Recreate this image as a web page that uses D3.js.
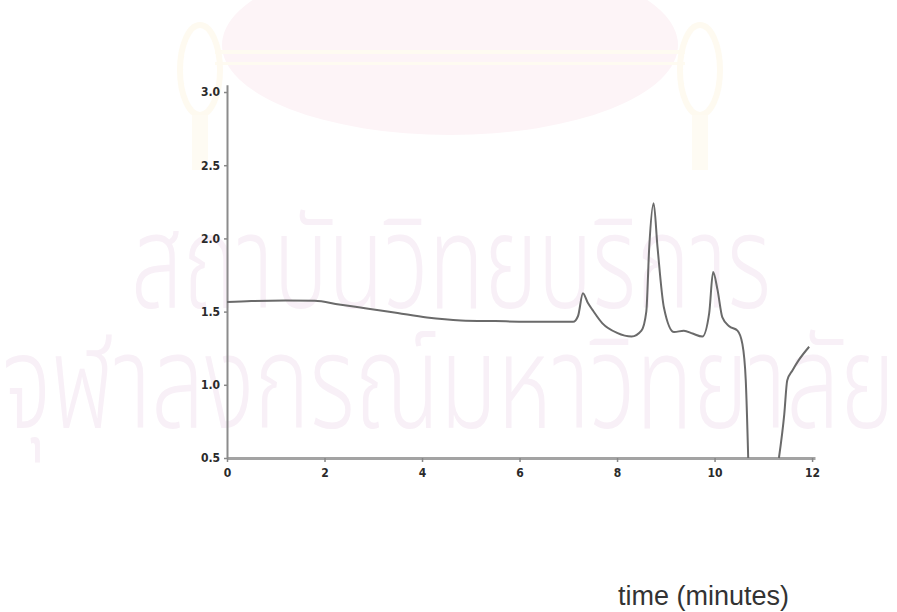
<!DOCTYPE html>
<html>
<head>
<meta charset="utf-8">
<script src="https://cdn.jsdelivr.net/npm/d3@7"></script>
<style>
body { margin: 0; background: #fff; }
</style>
</head>
<body>
<svg id="chart"></svg>
<script>
// absorbance trace, first part (time in minutes, absorbance)
var timeA = [0, 0.5, 1.2, 1.8, 2.3, 2.9, 3.5, 4.1, 4.8, 5.5, 6.5, 7.1, 7.2, 7.3, 7.4, 7.5, 7.7, 8.0, 8.3, 8.5, 8.6, 8.66, 8.75, 8.83, 8.96, 9.17, 9.37, 9.55, 9.75, 9.89, 9.97, 10.06, 10.16, 10.3, 10.47, 10.57, 10.64, 10.69];
var valueA = [1.565, 1.572, 1.576, 1.574, 1.548, 1.52, 1.49, 1.46, 1.44, 1.435, 1.43, 1.43, 1.47, 1.625, 1.56, 1.51, 1.42, 1.355, 1.33, 1.37, 1.5, 1.94, 2.24, 1.94, 1.53, 1.36, 1.37, 1.35, 1.33, 1.49, 1.77, 1.65, 1.46, 1.4, 1.37, 1.28, 1.03, 0.5];
// second part after the gap
var timeB = [11.32, 11.43, 11.49, 11.6, 11.73, 11.94];
var valueB = [0.5, 0.8, 1.03, 1.1, 1.17, 1.26];

var xTicks = [0, 2, 4, 6, 8, 10, 12];
var yTicks = [0.5, 1.0, 1.5, 2.0, 2.5, 3.0];
var xTitle = "time (minutes)";
var watermark = ["สถาบันวิทยบริการ", "จุฬาลงกรณ์มหาวิทยาลัย"];

var screen = { width: 897, height: 612 };

var svg = d3.select("#chart")
            .attr("width", screen.width)
            .attr("height", screen.height);

svg.append("rect")
   .attr("width", screen.width)
   .attr("height", screen.height)
   .attr("fill", "#fff");

// faint university watermark behind the plot
var wm = svg.append("g").attr("id", "watermark");
wm.append("ellipse")
  .attr("cx", 450).attr("cy", 45)
  .attr("rx", 228).attr("ry", 90)
  .attr("fill", "#fdf4f7");
wm.append("rect")
  .attr("x", 215).attr("y", 50).attr("width", 470).attr("height", 4)
  .attr("fill", "#fefbf1");
wm.append("rect")
  .attr("x", 215).attr("y", 62).attr("width", 470).attr("height", 3)
  .attr("fill", "#fefbf1");
[200, 700].forEach(function(cx){
  wm.append("ellipse")
    .attr("cx", cx).attr("cy", 70)
    .attr("rx", 20).attr("ry", 45)
    .attr("fill", "none")
    .attr("stroke", "#fefaf0")
    .attr("stroke-width", 6);
  wm.append("rect")
    .attr("x", cx - 8).attr("y", 115).attr("width", 16).attr("height", 55)
    .attr("fill", "#fefbf3");
});
wm.selectAll("text")
  .data(watermark)
  .enter()
  .append("text")
  .text(function(d){ return d; })
  .attr("x", function(d,i){ return i == 0 ? 131 : 2; })
  .attr("y", function(d,i){ return i == 0 ? 308 : 428; })
  .attr("textLength", function(d,i){ return i == 0 ? 640 : 893; })
  .attr("lengthAdjust", "spacingAndGlyphs")
  .attr("font-family", "'Noto Sans Thai', 'Noto Sans Thai UI', Loma, Garuda, 'Noto Sans', sans-serif")
  .attr("font-size", 130)
  .attr("font-weight", 300)
  .attr("fill", "#f8f0f7");

var xScale = d3.scaleLinear()
               .domain([0, 12.06])
               .range([227, 815]);
var yScale = d3.scaleLinear()
               .domain([0.5, 3.05])
               .range([458, 84.7]);

var xAxis = d3.axisBottom(xScale)
              .tickValues(xTicks)
              .tickSizeInner(4)
              .tickSizeOuter(0)
              .tickPadding(6)
              .tickFormat(d3.format("d"));
var yAxis = d3.axisLeft(yScale)
              .tickValues(yTicks)
              .tickSizeInner(3)
              .tickSizeOuter(0)
              .tickPadding(4)
              .tickFormat(d3.format(".1f"));

var gx = svg.append("g")
   .attr("id", "xAxis")
   .attr("transform", "translate(0," + yScale(0.5) + ")")
   .call(xAxis);
var gy = svg.append("g")
   .attr("id", "yAxis")
   .attr("transform", "translate(" + xScale(0) + ",0)")
   .call(yAxis);

gx.select(".domain").attr("stroke", "#a3a3a3").attr("stroke-width", 3);
gy.select(".domain").attr("stroke", "#8c8c8c").attr("stroke-width", 2);
svg.selectAll(".tick line").attr("stroke", "#888").attr("stroke-width", 1.5);
svg.selectAll(".tick text")
   .attr("font-family", "'DejaVu Sans Condensed', 'DejaVu Sans', sans-serif")
   .attr("font-weight", "bold")
   .attr("font-size", 12)
   .attr("fill", "#2a2a2a");

// the trace
var line = d3.line()
             .x(function(d){ return xScale(d[0]); })
             .y(function(d){ return yScale(d[1]); })
             .curve(d3.curveMonotoneX);

var segments = [d3.zip(timeA, valueA), d3.zip(timeB, valueB)];
svg.append("g")
   .attr("id", "trace")
   .selectAll("path")
   .data(segments)
   .enter()
   .append("path")
   .attr("d", line)
   .attr("fill", "none")
   .attr("stroke", "#6a6a6a")
   .attr("stroke-width", 2)
   .attr("stroke-linejoin", "round");

svg.append("text")
   .attr("x", 618)
   .attr("y", 605)
   .text(xTitle)
   .attr("font-family", "'Liberation Sans', Arial, sans-serif")
   .attr("font-size", 27)
   .attr("fill", "#333");
</script>
</body>
</html>
